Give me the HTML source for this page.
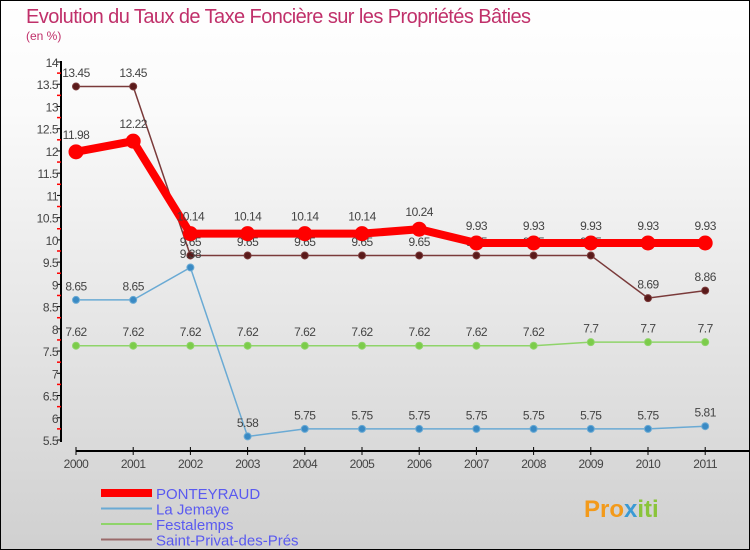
<!DOCTYPE html>
<html><head><meta charset="utf-8"><style>
body{margin:0}
#c{width:748px;height:548px;border:1px solid #000;background:linear-gradient(#fff,#fafafa 20%,#d0d0d0);position:relative;font-family:"Liberation Sans",sans-serif;overflow:hidden}
</style></head><body>
<div id="c">
<svg id="s" width="748" height="548" xmlns="http://www.w3.org/2000/svg"></svg>
</div>
<script>
const years=[2000,2001,2002,2003,2004,2005,2006,2007,2008,2009,2010,2011];
const ponteyraud=[11.98,12.22,10.14,10.14,10.14,10.14,10.24,9.93,9.93,9.93,9.93,9.93];
const jemaye=[8.65,8.65,9.38,5.58,5.75,5.75,5.75,5.75,5.75,5.75,5.75,5.81];
const festalemps=[7.62,7.62,7.62,7.62,7.62,7.62,7.62,7.62,7.62,7.7,7.7,7.7];
const stprivat=[13.45,13.45,9.65,9.65,9.65,9.65,9.65,9.65,9.65,9.65,8.69,8.86];
const yTicks=[5.5,6,6.5,7,7.5,8,8.5,9,9.5,10,10.5,11,11.5,12,12.5,13,13.5,14];
const ns="http://www.w3.org/2000/svg";
const s=document.getElementById('s');
const X=i=>75+i*57.2, Y=v=>61+(14-v)*44.47;
function el(t,a,p){const e=document.createElementNS(ns,t);for(const k in a)e.setAttribute(k,a[k]);(p||s).appendChild(e);return e;}
function tx(x,y,str,a){const e=el('text',Object.assign({x:x,y:y},a));e.textContent=str;return e;}
let t=tx(25,22,'Evolution du Taux de Taxe Foncière sur les Propriétés Bâties',{'font-size':20,fill:'#c0306a','textLength':505});

t=tx(25,39,'(en %)',{'font-size':12,fill:'#c0306a'});

let a=el('line',{x1:60,y1:60,x2:60,y2:441,stroke:'#000','stroke-width':2});

yTicks.forEach((v,k)=>{el('line',{x1:56,x2:61,y1:Y(v),y2:Y(v),stroke:'#000'});
 if(k<yTicks.length-1) el('line',{x1:56,x2:60,y1:Y(v+0.25),y2:Y(v+0.25),stroke:'red','stroke-width':1.5});
 const l=tx(57,Y(v)+5,String(v),{'font-size':12,fill:'#444','text-anchor':'end','letter-spacing':'-0.5'});
 });
a=el('line',{x1:75,y1:450,x2:748,y2:450,stroke:'#000','stroke-width':2});

years.forEach((y,i)=>{el('line',{x1:X(i),x2:X(i),y1:446,y2:454,stroke:'#000'});
 const l=tx(X(i),467,String(y),{'font-size':12,fill:'#444','text-anchor':'middle','letter-spacing':'-0.5'});
 });
function series(d,color,lw,r,name,fill){
 const g=el('g',{});
 el('polyline',{points:d.map((v,i)=>X(i)+','+Y(v)).join(' '),fill:'none',stroke:color,'stroke-width':lw},g);
 d.forEach((v,i)=>{const c=el('circle',{cx:X(i),cy:Y(v),r:r,fill:fill,stroke:color,'stroke-width':1},g);
  
  tx(X(i),Y(v)-(r+6),String(v),{'font-size':12,fill:'#444','text-anchor':'middle','letter-spacing':'-0.5'},g);});
}
series(stprivat,'#7a3a3a',1.5,3.5,'series-saint-privat','#5a1a1a');
series(festalemps,'#8fd46a',1.5,3.5,'series-festalemps','#7ccc4a');
series(jemaye,'#6aaad4',1.5,3.5,'series-la-jemaye','#3a8ac4');
series(ponteyraud,'#f00',8,7,'series-ponteyraud','#f00');
const leg=[['PONTEYRAUD','#f00',8],['La Jemaye','#6aaad4',2],['Festalemps','#8fd46a',2],['Saint-Privat-des-Prés','#9a6a6a',2]];
leg.forEach((l,i)=>{const y=492+i*15.5;const g=el('g',{});
 
 el('line',{x1:100,x2:151,y1:y,y2:y,stroke:l[1],'stroke-width':l[2]},g);
 tx(155,y+6,l[0],{'font-size':15,fill:'#5a5af0'},g);});
const p=tx(583,516,'Pro',{'font-size':24,'font-weight':'bold',fill:'#f39a1a'});

const ts=el('tspan',{fill:'#3a9ad4'},p);ts.textContent='x';
const t2=el('tspan',{fill:'#8ac43a'},p);t2.textContent='iti';
</script>
</body></html>
